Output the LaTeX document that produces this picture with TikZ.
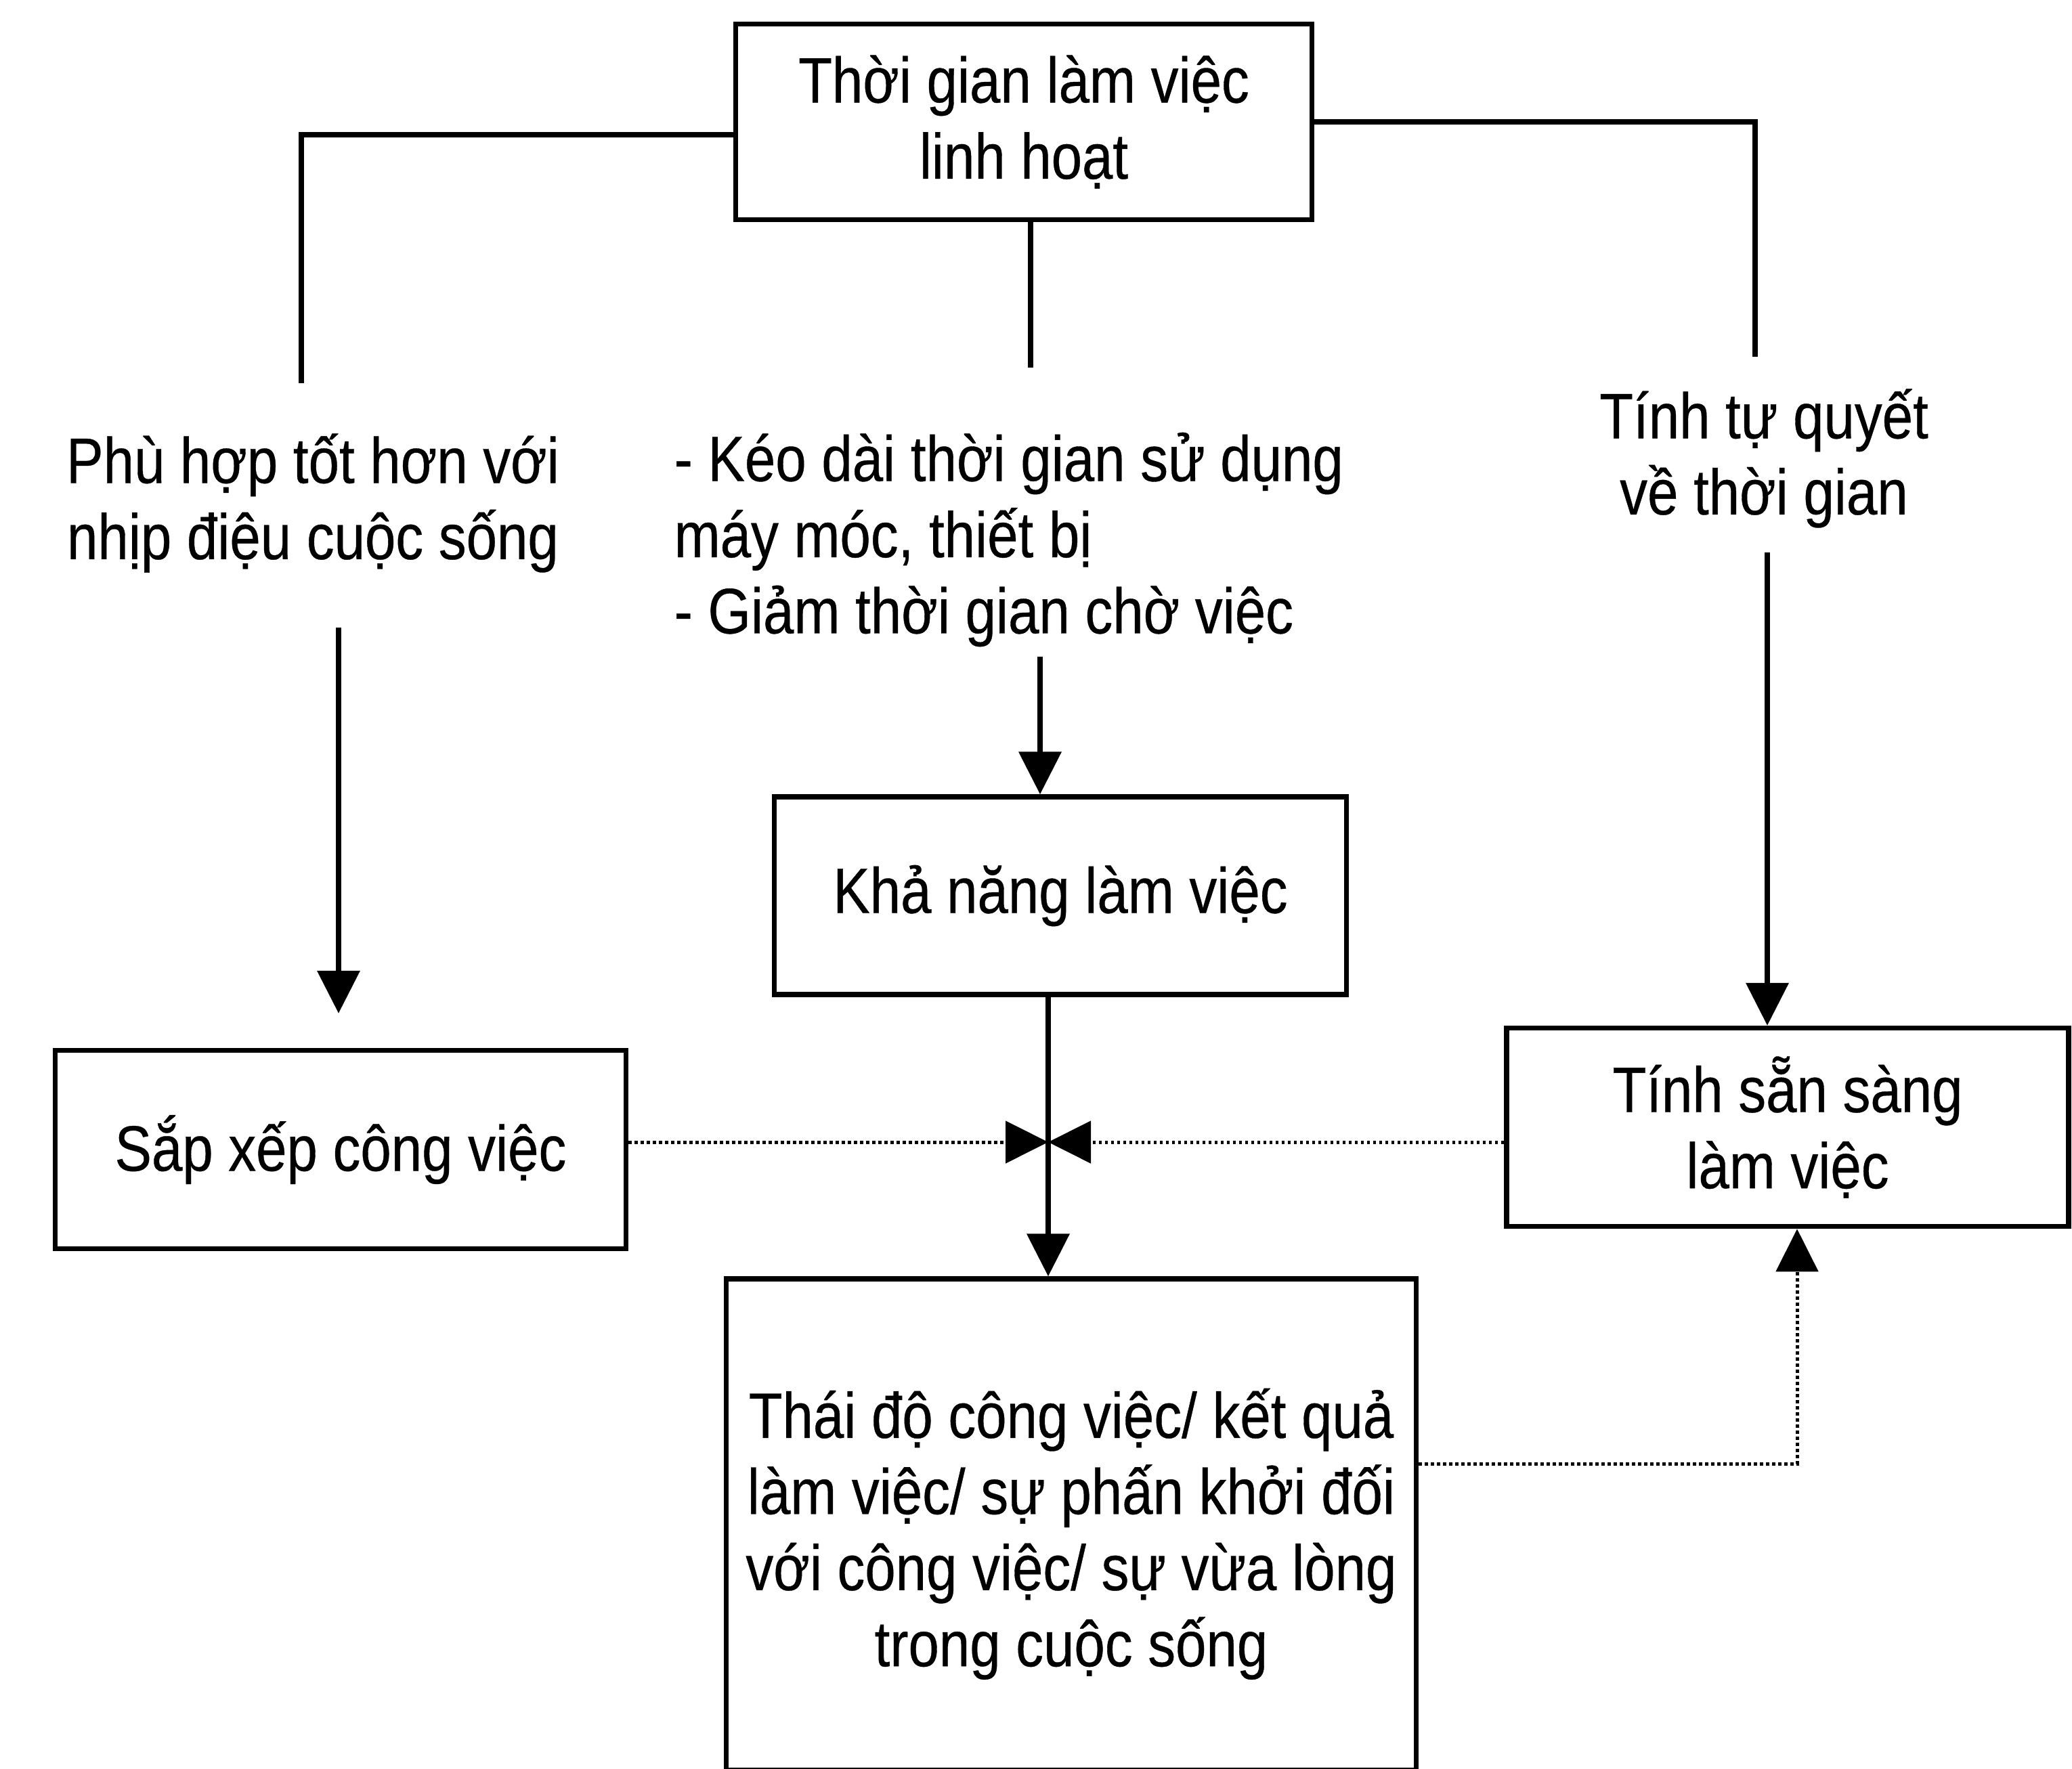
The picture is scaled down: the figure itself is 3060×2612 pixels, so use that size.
\documentclass[tikz,border=0pt]{standalone}
\usepackage{fontspec}
\setmainfont{Liberation Sans}[FakeStretch=0.86,FakeBold=0.4]
\usetikzlibrary{arrows.meta}
\begin{document}
\begin{tikzpicture}[x=0.1mm,y=-0.1mm,
  every node/.style={font=\fontsize{27pt}{32pt}\selectfont},
  box/.style={draw,line width=0.75mm,inner sep=0pt,align=center},
  lbl/.style={inner sep=0pt},
  link/.style={line width=0.75mm},
  dots/.style={line width=0.5mm,dash pattern=on 0.45mm off 0.45mm},
  tip/.style={-{Triangle[length=6.3mm,width=6.2mm]}}]
\useasboundingbox (0,0) rectangle (3060,2612);

% boxes
\node[box,minimum width=85.1mm,minimum height=28.9mm] (top) at (1512,180)
  {Thời gian làm việc\\linh hoạt};
\node[box,minimum width=84.3mm,minimum height=29.3mm] (sapxep) at (503,1698)
  {Sắp xếp công việc};
\node[box,minimum width=84.5mm,minimum height=29.2mm] (khanang) at (1566,1323)
  {Khả năng làm việc};
\node[box,minimum width=83.0mm,minimum height=29.3mm] (sansang) at (2640,1665)
  {Tính sẵn sàng\\làm việc};
\node[box,minimum width=101.9mm,minimum height=72.6mm] (thaido) at (1582,2252)
  {\raisebox{0pt}[\dimexpr\height+3.6mm\relax]{\begin{tabular}{@{}c@{}}Thái độ công việc/ kết quả\\làm việc/ sự phấn khởi đối\\với công việc/ sự vừa lòng\\trong cuộc sống\end{tabular}}};

% free-standing labels
\node[lbl,align=center] (phuhop) at (462,743) {Phù hợp tốt hơn với\\nhịp điệu cuộc sống};
\node[lbl,align=left,anchor=west] (keodai) at (995,797)
  {- Kéo dài thời gian sử dụng\\máy móc, thiết bị\\- Giảm thời gian chờ việc};
\node[lbl,align=center] (tuquyet) at (2605,677) {Tính tự quyết\\về thời gian};

% connector ends and bends
\coordinate (lend) at (445,566);
\coordinate (cend) at (1522,543);
\coordinate (rend) at (2592,527);
\coordinate (la) at (500,927);
\coordinate (ca) at (1536,970);
\coordinate (ra) at (2610,816);
\coordinate (mid) at (1548,1687);
\coordinate (fb) at (2654,2162);

% branches from the top box
\draw[link] ([yshift=-1.9mm]top.west) -| (lend);
\draw[link] (cend |- top.south) -- (cend);
\draw[link] (top.east) -| (rend);

% arrows into the boxes
\draw[link,tip,shorten >=5.1mm] (la) -- (la |- sapxep.north);
\draw[link,tip] (ca) -- (ca |- khanang.north);
\draw[link,tip] (ra) -- (ra |- sansang.north);
\draw[link,tip] (mid |- khanang.south) -- (mid |- thaido.north);

% dotted feedback arrows
\draw[dots,tip] (sapxep.east |- mid) -- (mid);
\draw[dots,tip] (sansang.west |- mid) -- (mid);
\draw[dots,tip] (thaido.east |- fb) -- (fb) -- (fb |- sansang.south);
\end{tikzpicture}
\end{document}
